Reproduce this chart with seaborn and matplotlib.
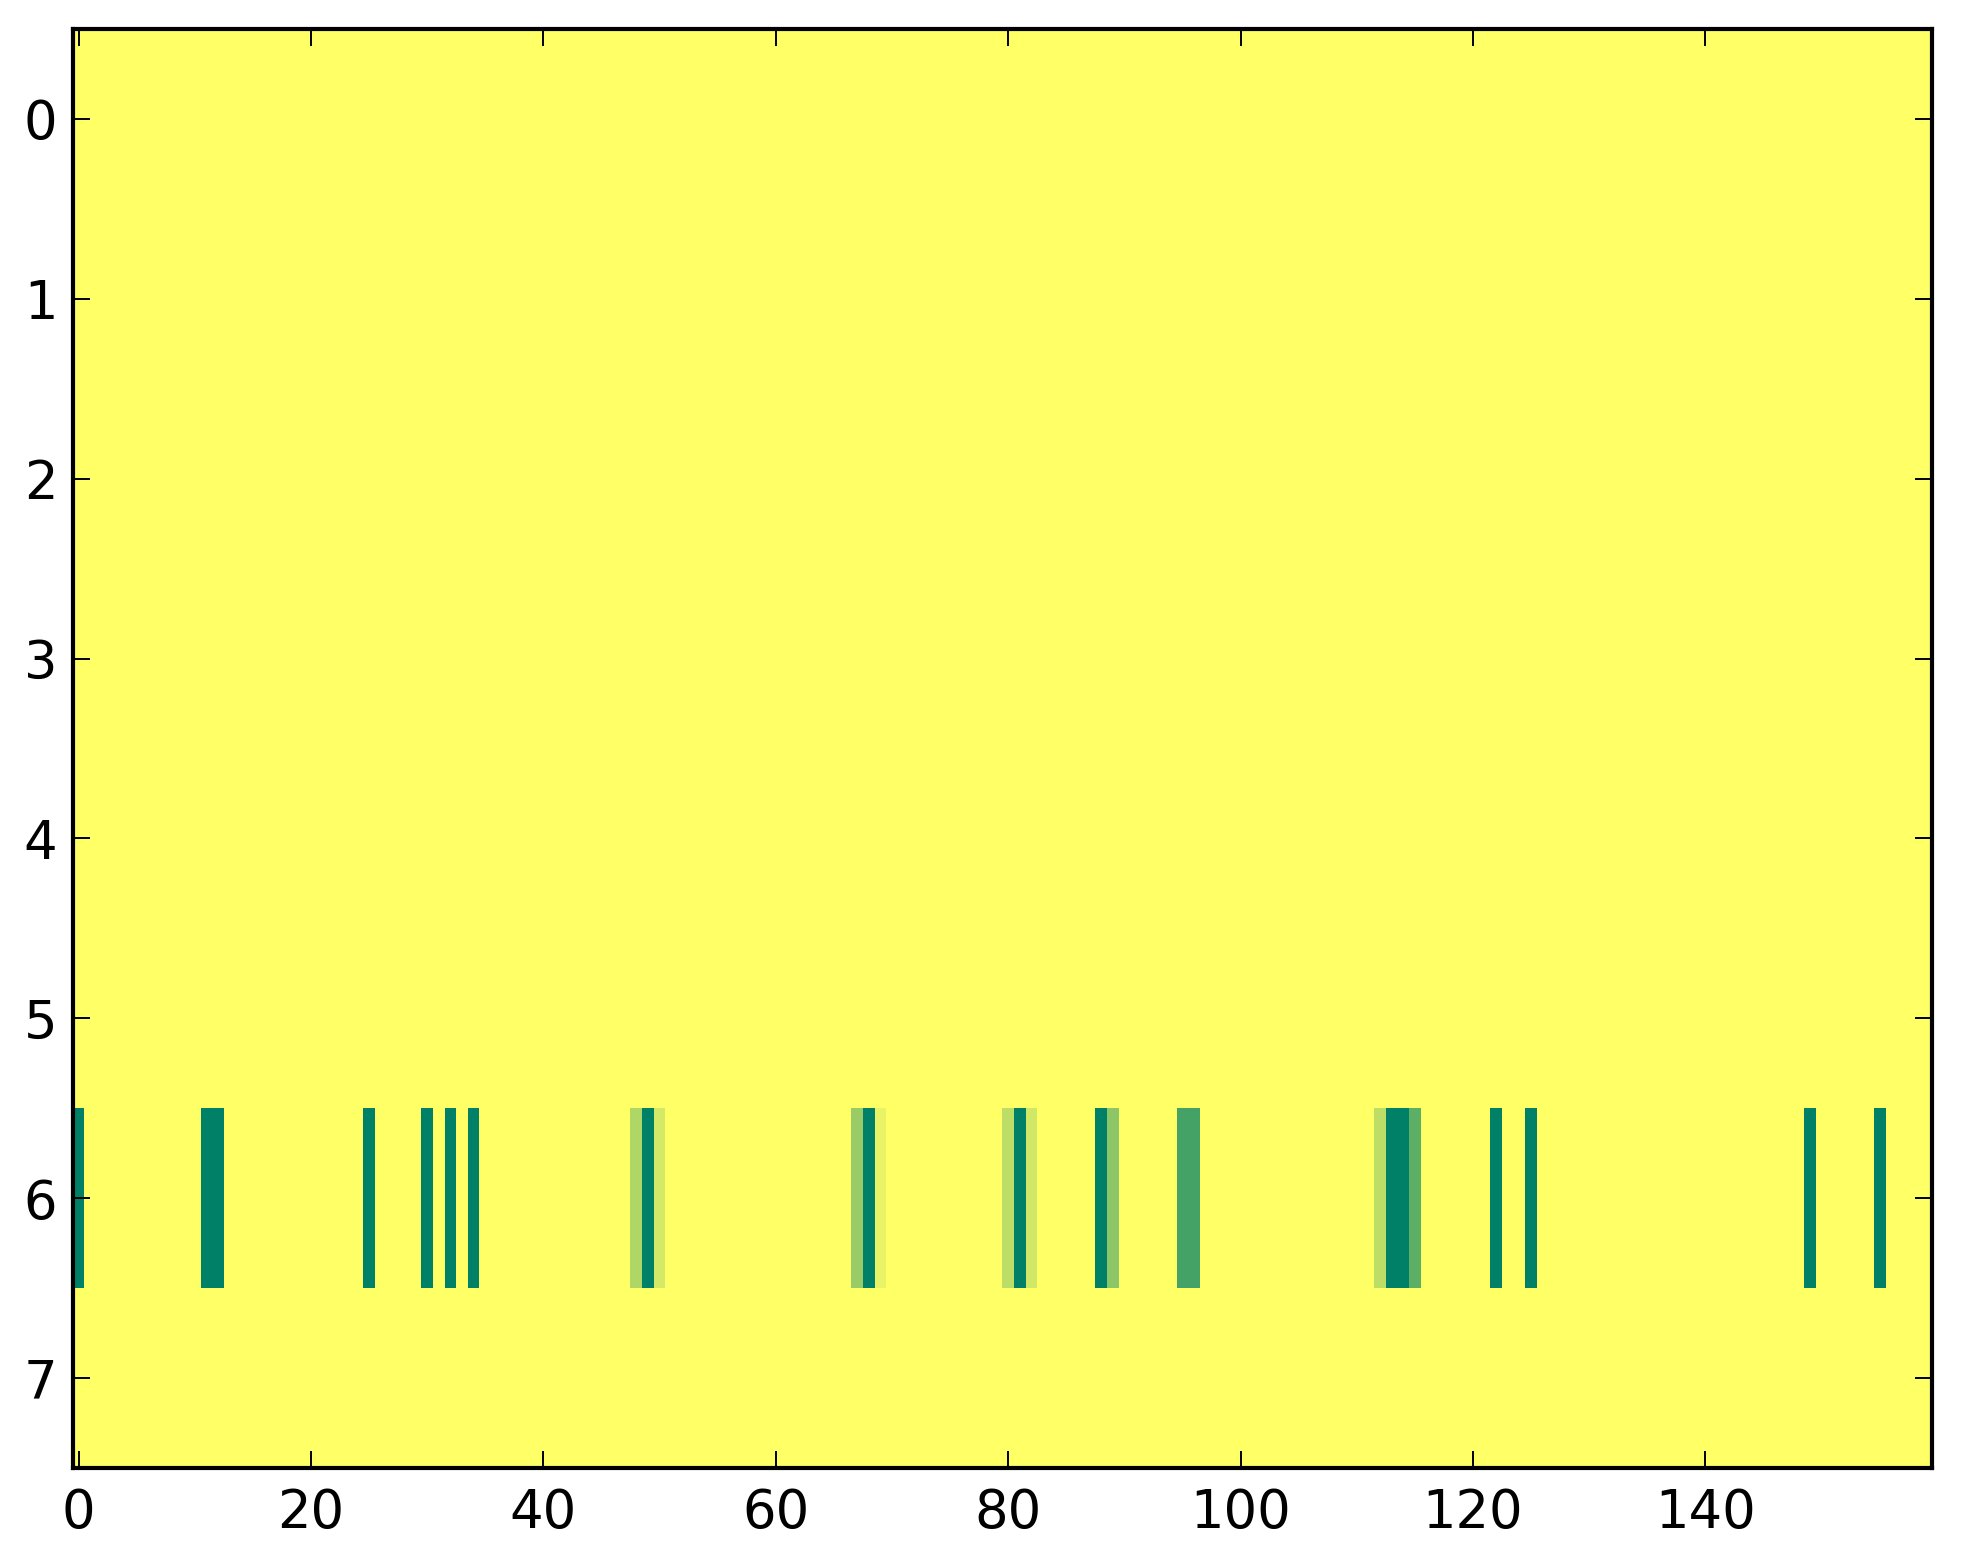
import numpy as np
import pandas as pd
import matplotlib
matplotlib.use("Agg")
import matplotlib.pyplot as plt
import seaborn as sns

# --- dados ---
n_rows = 8
n_cols = 160
active_row = 6
active_cols = [0, 11, 12, 25, 30, 32, 34,
               48, 49, 50, 67, 68, 69, 80, 81, 82, 88, 89, 95, 96,
               112, 113, 114, 115, 122, 125, 149, 155]
active_vals = [0.0, 0.0, 0.0, 0.0, 0.0, 0.0, 0.0,
               0.68, 0.0, 0.83, 0.6, 0.0, 0.91, 0.74, 0.0, 0.82, 0.0, 0.55, 0.27, 0.27,
               0.74, 0.0, 0.0, 0.37, 0.0, 0.0, 0.0, 0.0]
x_ticks = [0, 20, 40, 60, 80, 100, 120, 140]
y_ticks = [0, 1, 2, 3, 4, 5, 6, 7]

grid = np.ones((n_rows, n_cols))
grid[active_row, active_cols] = active_vals
df = pd.DataFrame(grid)

sns.set_style("white")
plt.rcParams['font.family'] = ['DejaVu Sans']

W, H = 1963, 1564
fig = plt.figure(figsize=(W / 200, H / 200), dpi=200)
left, right, top, bottom = 72.7, 1932, 29, 1468
ax = fig.add_axes([left / W, 1 - bottom / H, (right - left) / W, (bottom - top) / H])

sns.heatmap(df, ax=ax, cmap='summer', vmin=0, vmax=1, cbar=False,
            xticklabels=False, yticklabels=False)

ax.set_xticks(np.array(x_ticks) + 0.5)
ax.set_xticklabels([str(t) for t in x_ticks])
ax.set_yticks(np.array(y_ticks) + 0.5)
ax.set_yticklabels([str(t) for t in y_ticks], rotation=0)
ax.set_xlim(0, n_cols)
ax.set_ylim(n_rows, 0)
ax.set_axisbelow(False)

for s in ax.spines.values():
    s.set_visible(True)
    s.set_linewidth(1.5)
    s.set_color('black')
    s.set_zorder(3)

ax.tick_params(direction='in', length=6, width=0.7, colors='black',
               labelsize=19, top=True, right=True, bottom=True, left=True)
ax.tick_params(axis='x', pad=7)
ax.tick_params(axis='y', pad=5.5)

fig.savefig('out.png', dpi=200)
